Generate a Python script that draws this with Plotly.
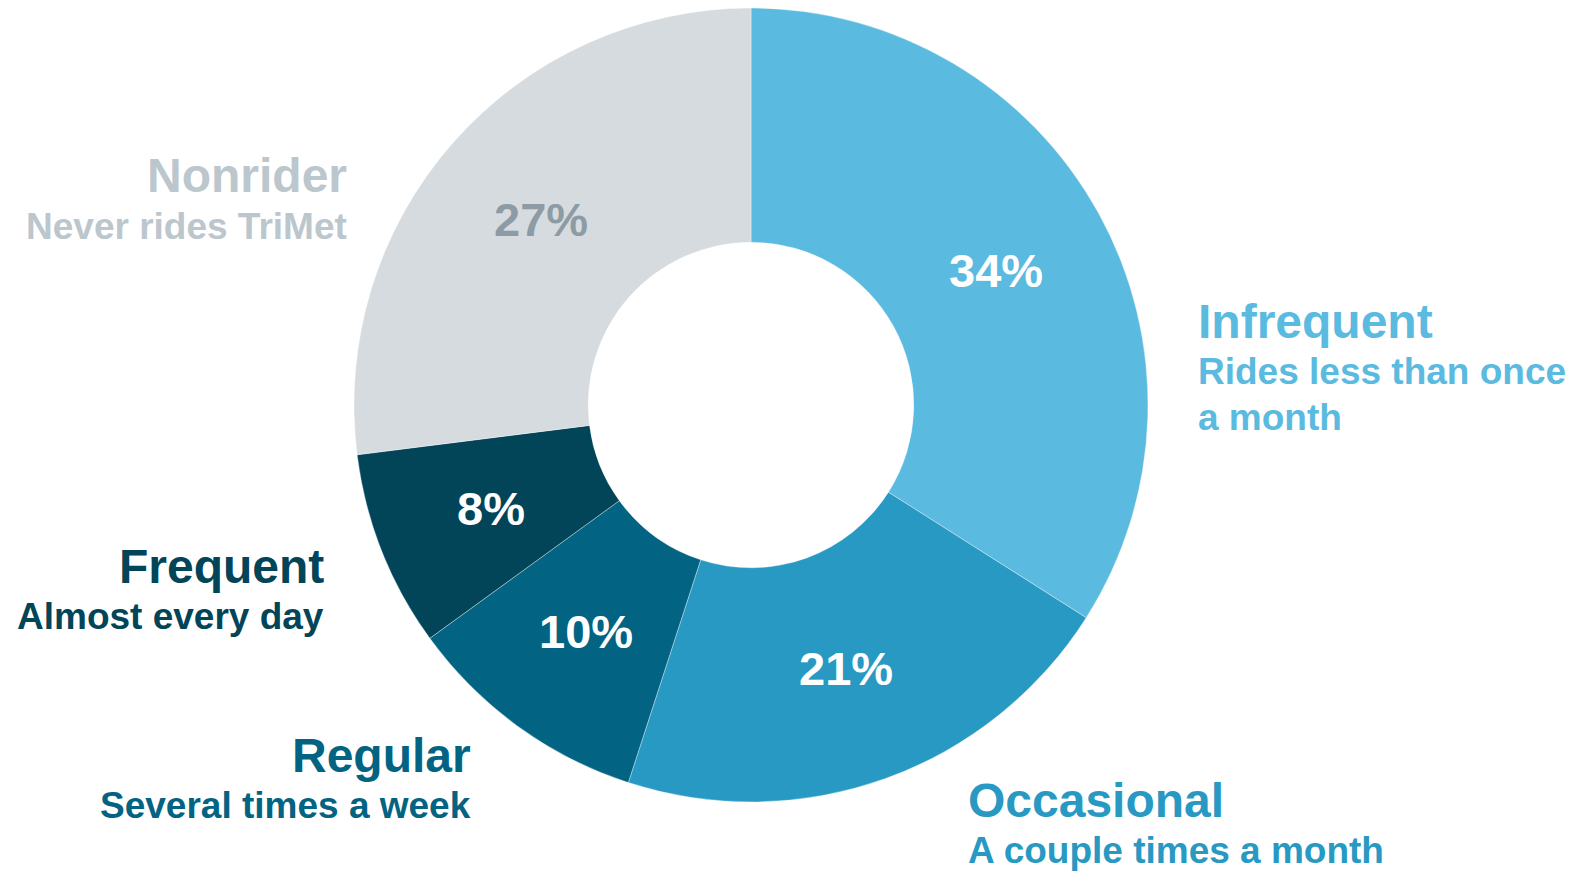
import math
import plotly.graph_objects as go

# Rider segments, clockwise from 12 o'clock
segments = ["Infrequent", "Occasional", "Regular", "Frequent", "Nonrider"]
shares = [34, 21, 10, 8, 27]
descriptions = [
    ["Rides less than once", "a month"],
    ["A couple times a month"],
    ["Several times a week"],
    ["Almost every day"],
    ["Never rides TriMet"],
]
slice_colors = ["#5BBADF", "#2899C2", "#026382", "#024458", "#D6DBDF"]
value_colors = ["#FFFFFF", "#FFFFFF", "#FFFFFF", "#FFFFFF", "#8D9BA5"]
label_colors = ["#5BBADF", "#2899C2", "#036382", "#024458", "#BCC6CD"]

W, H = 1576, 871
FONT = "Liberation Sans, Arial, sans-serif"

# donut geometry in pixels
cx, cy, r = 751, 405, 397
HOLE = 0.41


def px_to_paper(x, y):
    return x / W, 1 - y / H


fig = go.Figure(
    go.Pie(
        labels=segments,
        values=shares,
        sort=False,
        direction="clockwise",
        rotation=0,
        hole=HOLE,
        marker=dict(colors=slice_colors,
                    line=dict(color="rgba(255,255,255,0.6)", width=0.6)),
        textinfo="none",
        showlegend=False,
        hoverinfo="label+percent",
        domain=dict(
            x=[(cx - r) / W, (cx + r) / W],
            y=[(H - cy - r) / H, (H - cy + r) / H],
        ),
    )
)

annotations = []

# percentage labels centred in the ring, at each slice's mid-angle
total = sum(shares)
mid_r = r * (1 + HOLE) / 2
cum = 0
for share, col in zip(shares, value_colors):
    ang = 2 * math.pi * (cum + share / 2) / total
    cum += share
    x = cx + mid_r * math.sin(ang)
    y = cy - mid_r * math.cos(ang)
    px, py = px_to_paper(x, y)
    annotations.append(dict(
        x=px, y=py, xref="paper", yref="paper", text=f"{share}%",
        showarrow=False, xanchor="center", yanchor="middle",
        font=dict(family=FONT, size=47, color=col, weight="bold"),
    ))

# outer segment labels: (x px, title centre y px, anchor)
label_pos = {
    "Infrequent": (1196, 322, "left"),
    "Occasional": (966, 800, "left"),
    "Regular": (473, 755, "right"),
    "Frequent": (326, 566, "right"),
    "Nonrider": (349, 176, "right"),
}
SUB_GAP = 50
LINE_GAP = 45

for seg, desc, col in zip(segments, descriptions, label_colors):
    x, y, anchor = label_pos[seg]
    px, py = px_to_paper(x, y)
    annotations.append(dict(
        x=px, y=py, xref="paper", yref="paper",
        text=seg, showarrow=False, xanchor=anchor, yanchor="middle",
        font=dict(family=FONT, size=48, color=col, weight="bold"),
    ))
    for i, line in enumerate(desc):
        px, py = px_to_paper(x, y + SUB_GAP + i * LINE_GAP)
        annotations.append(dict(
            x=px, y=py, xref="paper", yref="paper",
            text=line, showarrow=False, xanchor=anchor, yanchor="middle",
            font=dict(family=FONT, size=37, color=col, weight="bold"),
        ))

fig.update_layout(
    width=W, height=H,
    margin=dict(l=0, r=0, t=0, b=0),
    paper_bgcolor="white",
    plot_bgcolor="white",
    annotations=annotations,
)

fig.write_html("out.html")
